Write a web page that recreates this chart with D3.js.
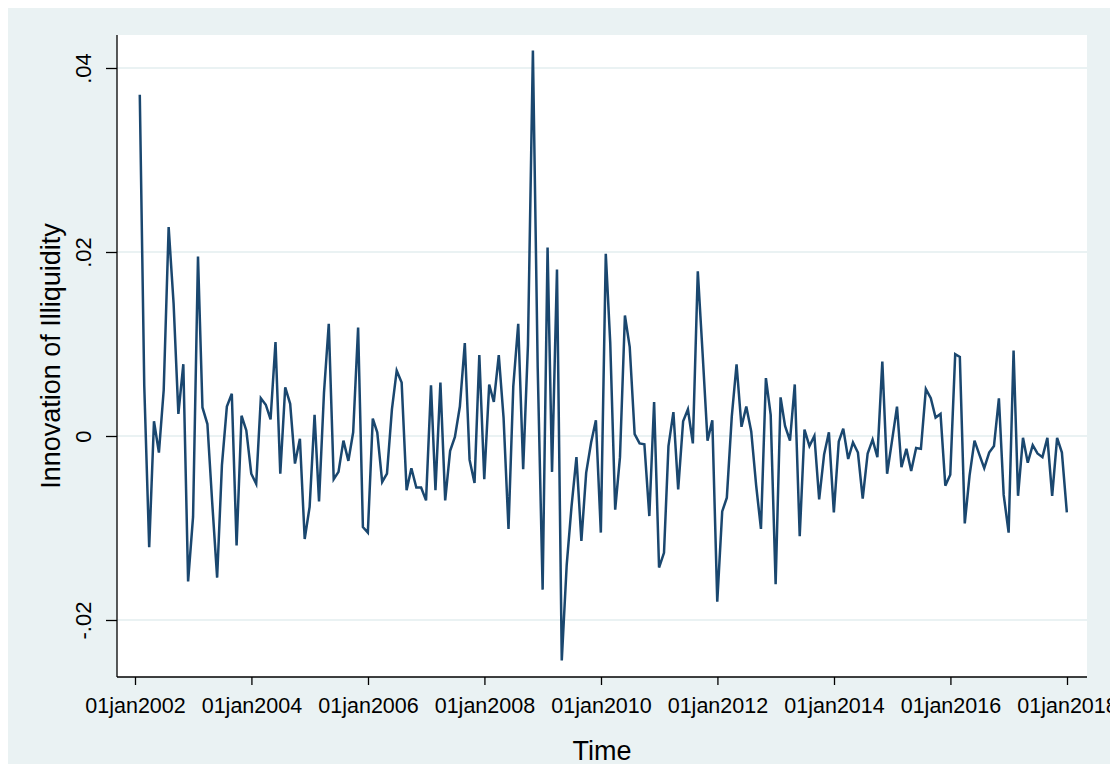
<!DOCTYPE html>
<html>
<head>
<meta charset="utf-8">
<script src="https://cdn.jsdelivr.net/npm/d3@7"></script>
<style>
  body { margin: 0; background: #fff; }
  text { font-family: "Liberation Sans", Arial, sans-serif; fill: #000; }
</style>
</head>
<body>
<div id="container"></div>
<script>
// monthly values, one row per year (Jan..Dec)
const years = d3.range(2002, 2018);
const values = [
  0.0371, 0.0055, -0.0121, 0.0016, -0.0018, 0.005, 0.0227, 0.0144, 0.0024, 0.0078, -0.0158, -0.0088,
  0.0195, 0.0031, 0.0013, -0.0072, -0.0154, -0.0032, 0.0032, 0.0046, -0.0119, 0.0022, 0.0006, -0.0041,
  -0.0052, 0.0041, 0.0034, 0.0018, 0.0102, -0.0041, 0.0053, 0.0035, -0.003, -0.0003, -0.0112, -0.0077,
  0.0023, -0.0071, 0.0047, 0.0122, -0.0047, -0.0039, -0.0005, -0.0027, 0.0004, 0.0118, -0.0099, -0.0105,
  0.0019, 0.0004, -0.005, -0.0041, 0.0029, 0.0071, 0.0058, -0.0059, -0.0035, -0.0056, -0.0056, -0.007,
  0.0055, -0.0059, 0.0058, -0.007, -0.0016, -0.0001, 0.0032, 0.0101, -0.0026, -0.0051, 0.0088, -0.0047,
  0.0056, 0.0037, 0.0088, 0.002, -0.0101, 0.0054, 0.0122, -0.0036, 0.0099, 0.0419, 0.0075, -0.0167,
  0.0205, -0.0039, 0.0181, -0.0244, -0.014, -0.0077, -0.0023, -0.0114, -0.004, -0.0007, 0.0017, -0.0105,
  0.0198, 0.0101, -0.008, -0.0023, 0.0131, 0.0097, 0.0002, -0.0008, -0.0009, -0.0087, 0.0037, -0.0143,
  -0.0127, -0.0011, 0.0026, -0.0058, 0.0016, 0.0029, -0.0008, 0.0179, 0.009, -0.0005, 0.0017, -0.018,
  -0.0082, -0.0067, 0.0021, 0.0078, 0.001, 0.0032, 0.0005, -0.0054, -0.0101, 0.0063, 0.0023, -0.0161,
  0.0042, 0.0011, -0.0005, 0.0056, -0.0109, 0.0007, -0.0011, 0.0, -0.0069, -0.002, 0.0004, -0.0083,
  -0.0006, 0.0008, -0.0025, -0.0007, -0.0018, -0.0068, -0.0019, -0.0004, -0.0023, 0.0081, -0.0041, -0.0005,
  0.0032, -0.0034, -0.0014, -0.0038, -0.0013, -0.0014, 0.0051, 0.0041, 0.002, 0.0024, -0.0054, -0.0042,
  0.0089, 0.0086, -0.0095, -0.0043, -0.0005, -0.002, -0.0035, -0.0018, -0.0011, 0.0041, -0.0064, -0.0105,
  0.0093, -0.0065, -0.0002, -0.0029, -0.001, -0.0019, -0.0023, -0.0002, -0.0065, -0.0002, -0.0018, -0.0083
];

const xTickYears = [2002, 2004, 2006, 2008, 2010, 2012, 2014, 2016, 2018];
const xTickLabels = ["01jan2002", "01jan2004", "01jan2006", "01jan2008", "01jan2010",
                     "01jan2012", "01jan2014", "01jan2016", "01jan2018"];
const yTicks = [-0.02, 0, 0.02, 0.04];
const yTickLabels = ["-.02", "0", ".02", ".04"];
const xTitle = "Time";
const yTitle = "Innovation of Illiquidity";

// end-of-month dates
const dates = [];
years.forEach(y => d3.range(12).forEach(m => dates.push(new Date(y, m + 1, 0))));
const data = values.map((v, i) => ({ date: dates[i], value: v }));

const W = 1118, H = 772;
const plot = { left: 117, right: 1087, top: 35, bottom: 677 };
const navy = "#1a476f";
const bg = "#eaf2f3";

const svg = d3.select("#container").append("svg")
  .attr("width", W).attr("height", H);

svg.append("defs").append("clipPath").attr("id", "outer")
  .append("rect").attr("x", 8).attr("y", 8).attr("width", 1102).attr("height", 756);

const g = svg.append("g").attr("clip-path", "url(#outer)");

g.append("rect").attr("x", 8).attr("y", 8).attr("width", 1102).attr("height", 756).attr("fill", bg);
g.append("rect")
  .attr("x", plot.left).attr("y", plot.top)
  .attr("width", plot.right - plot.left).attr("height", plot.bottom - plot.top)
  .attr("fill", "#fff");

const xScale = d3.scaleTime()
  .domain([new Date(2002, 0, 1), new Date(2018, 0, 1)])
  .range([135, 1067]);
const yScale = d3.scaleLinear()
  .domain([-0.02, 0.04])
  .range([620, 68]);

// gridlines
g.append("g").selectAll("line").data(yTicks).enter().append("line")
  .attr("x1", plot.left).attr("x2", plot.right)
  .attr("y1", d => yScale(d)).attr("y2", d => yScale(d))
  .attr("stroke", bg).attr("stroke-width", 2);

// series
const line = d3.line().x(d => xScale(d.date)).y(d => yScale(d.value));
g.append("path").datum(data)
  .attr("d", line)
  .attr("fill", "none")
  .attr("stroke", navy)
  .attr("stroke-width", 2.5)
  .attr("stroke-linejoin", "miter");

// y axis
const yAxis = g.append("g").attr("transform", "translate(" + plot.left + ",0)")
  .call(d3.axisLeft(yScale).tickValues(yTicks).tickSize(11).tickFormat((d, i) => yTickLabels[i]));
yAxis.select(".domain").attr("d", "M0," + plot.top + "V" + plot.bottom).attr("stroke", "#000").attr("stroke-width", 1.3);
yAxis.selectAll(".tick line").attr("stroke", "#000").attr("stroke-width", 1.3);
yAxis.selectAll(".tick text")
  .attr("x", null).attr("dy", null)
  .attr("text-anchor", "middle")
  .attr("transform", "translate(-26,0) rotate(-90)")
  .style("font-size", "22px")
  .style("font-family", "'Liberation Sans', Arial, sans-serif");

// x axis
const xAxis = g.append("g").attr("transform", "translate(0," + plot.bottom + ")")
  .call(d3.axisBottom(xScale)
    .tickValues(xTickYears.map(y => new Date(y, 0, 1)))
    .tickSize(8)
    .tickFormat((d, i) => xTickLabels[i]));
xAxis.select(".domain").attr("d", "M" + plot.left + ",0H" + plot.right).attr("stroke", "#000").attr("stroke-width", 1.3);
xAxis.selectAll(".tick line").attr("stroke", "#000").attr("stroke-width", 1.3);
xAxis.selectAll(".tick text")
  .attr("y", 36).attr("dy", null)
  .style("font-size", "21.5px")
  .style("font-family", "'Liberation Sans', Arial, sans-serif");

// titles
g.append("text")
  .attr("x", (plot.left + plot.right) / 2).attr("y", 760)
  .attr("text-anchor", "middle")
  .style("font-size", "27px")
  .text(xTitle);

g.append("text")
  .attr("transform", "translate(60," + (plot.top + plot.bottom) / 2 + ") rotate(-90)")
  .attr("text-anchor", "middle")
  .style("font-size", "27px")
  .text(yTitle);
</script>
</body>
</html>
